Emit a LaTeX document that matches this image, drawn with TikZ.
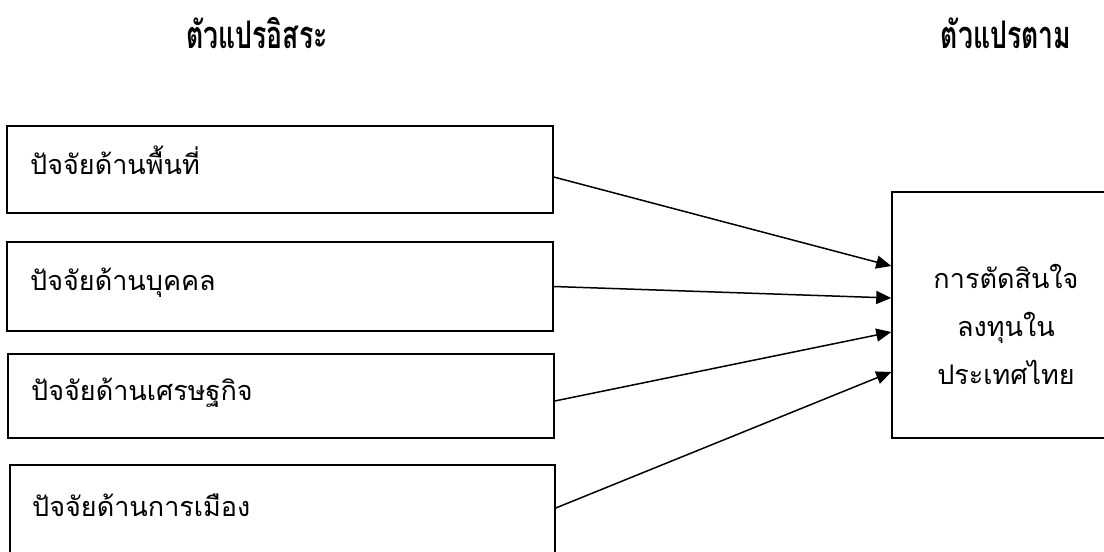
\documentclass[tikz,border=0pt]{standalone}
\usepackage{fontspec}
\usetikzlibrary{arrows.meta,calc}
\newfontfamily\thai[Script=Thai]{Loma}
\newfontfamily\thaicond[Script=Thai,FakeStretch=0.7]{Loma}
\begin{document}
\begin{tikzpicture}[x=1pt,y=-1pt,
  box/.style={draw,line width=1.5pt,inner sep=0pt},
  lbl/.style={anchor=west,inner sep=0pt,font=\thai\fontsize{27}{32}\selectfont},
  ttl/.style={inner sep=0pt,font=\thaicond\bfseries\fontsize{38}{42}\selectfont},
  arr/.style={line width=1.5pt,-{Triangle[length=15pt,width=13pt]}}]
\useasboundingbox (0,0) rectangle (1104,552);
\clip (0,0) rectangle (1104,552);
\node[ttl] (t1) at (257,33) {ตัวแปรอิสระ};
\node[ttl] (t2) at (1006,33) {ตัวแปรตาม};
\node[box,minimum width=546pt,minimum height=87pt] (b1) at (280,169.5) {};
\node[box,minimum width=546pt,minimum height=89pt] (b2) at (280,286.5) {};
\node[box,minimum width=546pt,minimum height=84pt] (b3) at (281,396) {};
\node[box,minimum width=545pt,minimum height=110pt] (b4) at (282.5,520) {};
\node[lbl] (l1) at (30,160) {ปัจจัยด้านพื้นที่};
\node[lbl] (l2) at (30,283) {ปัจจัยด้านบุคคล};
\node[lbl] (l3) at (31,393) {ปัจจัยด้านเศรษฐกิจ};
\node[lbl] (l4) at (32,505) {ปัจจัยด้านการเมือง};
\node[box,minimum width=240pt,minimum height=246pt] (dv) at (1012,315) {};
\node[inner sep=0pt,align=center,font=\thai\fontsize{27}{48}\selectfont] (dl) at (1006,324) {การตัดสินใจ\\ลงทุนใน\\ประเทศไทย};
\draw[arr] ([yshift=-7.5pt]b1.east) -- ([yshift=49pt]dv.west);
\draw[arr] ([yshift=0pt]b2.east) -- ([yshift=17pt]dv.west);
\draw[arr] ([yshift=-5pt]b3.east) -- ([yshift=-17pt]dv.west);
\draw[arr] ([yshift=12pt]b4.east) -- ([yshift=-57pt]dv.west);
\end{tikzpicture}
\end{document}
